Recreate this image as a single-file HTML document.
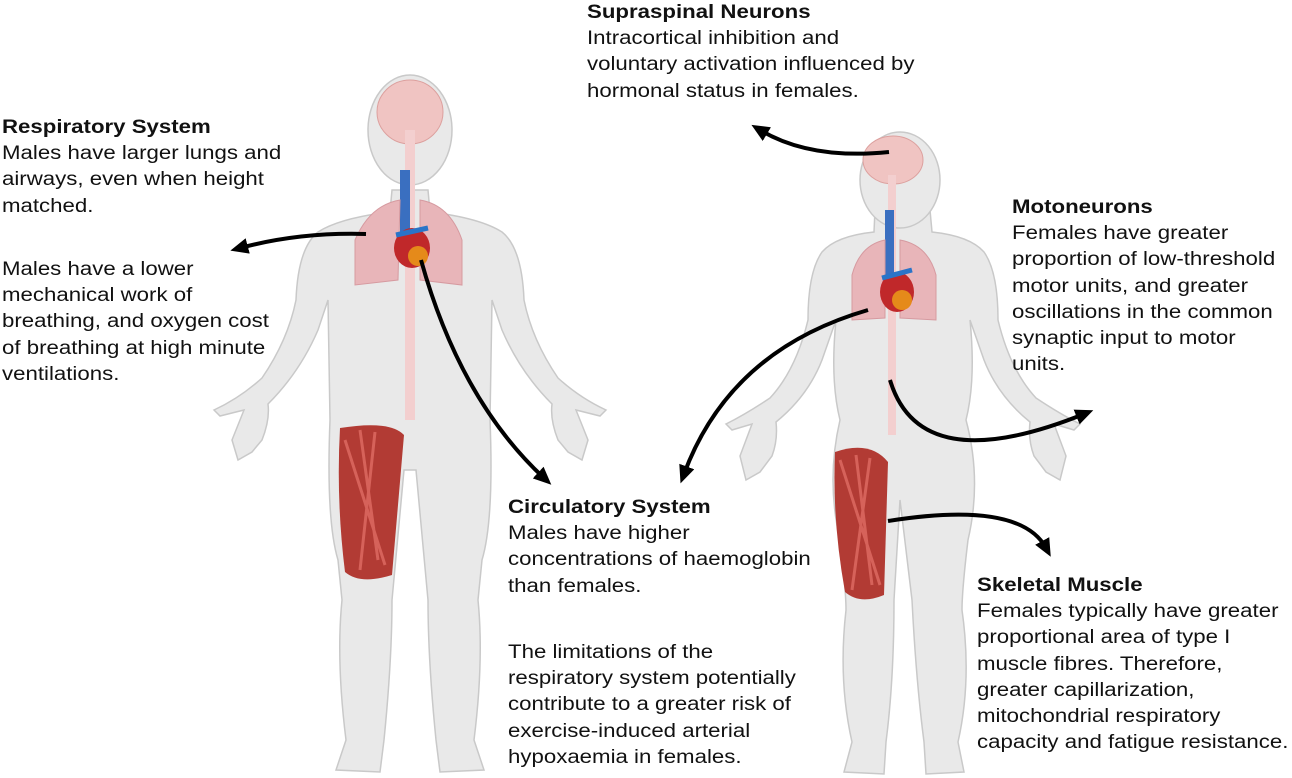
<!DOCTYPE html>
<html><head><meta charset="utf-8"><style>
html,body{margin:0;padding:0;background:#fff;}
#w{position:relative;width:1292px;height:778px;overflow:hidden;font-family:"Liberation Sans",Arial,sans-serif;color:#111;}
.t{position:absolute;font-size:19px;line-height:26.2px;white-space:nowrap;transform:scaleX(1.17);transform-origin:0 0;}
.t b{font-weight:bold;}
svg{position:absolute;left:0;top:0;}
</style></head><body><div id="w">
<svg width="1292" height="778" viewBox="0 0 1292 778">
<defs>
<marker id="ah" markerWidth="18" markerHeight="18" refX="8" refY="9" orient="auto" markerUnits="userSpaceOnUse" viewBox="0 0 18 18">
<path d="M0,1 L18,9 L0,17 z" fill="#000"/></marker>
</defs>
<g fill="#e9e9e9" stroke="#c9c9c9" stroke-width="1.5">
<path d="M392,190 L390,212 Q340,218 318,232 Q298,248 296,300 Q288,340 262,378 Q240,398 214,410 L220,416 Q236,412 244,410 L232,440 L238,460 L252,452 L262,440 Q270,420 268,404 Q300,372 318,330 L328,300 L330,420 Q326,520 338,560 L342,600 Q336,660 346,740 L336,770 L380,772 L384,740 Q392,660 392,600 L404,470 L416,470 L428,600 Q428,660 436,740 L440,772 L484,770 L474,740 Q484,660 478,600 L482,560 Q494,520 490,420 L492,300 L502,330 Q520,372 552,404 Q550,420 558,440 L568,452 L582,460 L588,440 L576,410 Q584,412 600,416 L606,410 Q580,398 558,378 Q532,340 524,300 Q522,248 502,232 Q480,218 430,212 L428,190 Z"/>
<ellipse cx="410" cy="130" rx="42" ry="55"/>
<path d="M875,210 L874,232 Q836,236 822,252 Q808,272 808,320 Q796,370 770,398 Q746,414 726,424 L732,430 L752,424 L740,456 L746,480 L760,472 L772,456 Q778,440 776,422 Q808,396 822,360 L836,320 Q830,380 840,420 Q826,480 840,540 Q846,590 846,610 Q838,680 852,742 L844,772 L884,774 L886,742 Q894,680 894,600 L900,500 L912,600 Q916,680 924,742 L926,774 L964,772 L958,742 Q972,680 962,610 Q962,590 968,540 Q982,480 966,420 Q976,380 970,320 L984,360 Q998,396 1030,422 Q1028,440 1034,456 L1046,472 L1060,480 L1066,456 L1054,424 L1074,430 L1080,424 Q1060,414 1036,398 Q1010,370 998,320 Q998,272 984,252 Q970,236 932,232 L930,210 Z"/>
<ellipse cx="900" cy="180" rx="40" ry="48"/>
</g>
<ellipse cx="410" cy="112" rx="33" ry="32" fill="#f0c4c2" stroke="#dca09e"/>
<rect x="405" y="130" width="10" height="290" fill="#f3cfcf"/>
<rect x="400" y="170" width="10" height="90" fill="#3a6fc0"/>
<path d="M400,200 Q370,205 355,240 L355,285 L398,280 Z" fill="#e8b5b9" stroke="#d69aa0"/>
<path d="M420,200 Q450,205 462,240 L462,285 L420,280 Z" fill="#e8b5b9" stroke="#d69aa0"/>
<ellipse cx="412" cy="248" rx="18" ry="20" fill="#c0282a"/>
<ellipse cx="418" cy="256" rx="10" ry="10" fill="#e58a1a"/>
<path d="M396,235 L428,228" stroke="#2a74c8" stroke-width="5"/>
<path d="M340,428 Q390,420 404,435 L392,575 Q360,585 345,572 Q336,500 340,428 Z" fill="#b23b34"/>
<path d="M345,440 L385,565 M360,430 L378,560 M375,432 L360,570" stroke="#d6625a" stroke-width="3" fill="none"/>
<ellipse cx="893" cy="160" rx="30" ry="24" fill="#f0c4c2" stroke="#dca09e"/>
<rect x="888" y="175" width="8" height="260" fill="#f3cfcf"/>
<rect x="885" y="210" width="9" height="80" fill="#3a6fc0"/>
<path d="M885,240 Q860,245 852,275 L852,320 L885,318 Z" fill="#e8b5b9" stroke="#d69aa0"/>
<path d="M900,240 Q928,245 936,275 L936,320 L900,318 Z" fill="#e8b5b9" stroke="#d69aa0"/>
<ellipse cx="897" cy="292" rx="17" ry="20" fill="#c0282a"/>
<ellipse cx="902" cy="300" rx="10" ry="10" fill="#e58a1a"/>
<path d="M882,278 L912,270" stroke="#2a74c8" stroke-width="5"/>
<path d="M835,452 Q870,440 888,462 L884,595 Q860,605 845,592 Q832,520 835,452 Z" fill="#b23b34"/>
<path d="M840,460 L880,585 M856,455 L872,585 M870,458 L852,590" stroke="#d6625a" stroke-width="3" fill="none"/>
<g fill="none" stroke="#000" stroke-width="4" marker-end="url(#ah)">
<path d="M366,234 Q300,232 240,248"/>
<path d="M421,260 Q460,400 544,478"/>
<path d="M889,152 Q810,160 760,130"/>
<path d="M868,310 Q730,350 684,474"/>
<path d="M890,380 Q920,480 1084,414"/>
<path d="M888,521 Q1020,500 1046,548"/>
</g>
</svg>
<div class="t" style="left:2px;top:115px"><b>Respiratory System</b><br>Males have larger lungs and<br>airways, even when height<br>matched.</div>
<div class="t" style="left:2px;top:257px">Males have a lower<br>mechanical work of<br>breathing, and oxygen cost<br>of breathing at high minute<br>ventilations.</div>
<div class="t" style="left:587px;top:0px"><b>Supraspinal Neurons</b><br>Intracortical inhibition and<br>voluntary activation influenced by<br>hormonal status in females.</div>
<div class="t" style="left:1012px;top:195px"><b>Motoneurons</b><br>Females have greater<br>proportion of low-threshold<br>motor units, and greater<br>oscillations in the common<br>synaptic input to motor<br>units.</div>
<div class="t" style="left:508px;top:495px"><b>Circulatory System</b><br>Males have higher<br>concentrations of haemoglobin<br>than females.</div>
<div class="t" style="left:508px;top:640px">The limitations of the<br>respiratory system potentially<br>contribute to a greater risk of<br>exercise-induced arterial<br>hypoxaemia in females.</div>
<div class="t" style="left:977px;top:573px"><b>Skeletal Muscle</b><br>Females typically have greater<br>proportional area of type I<br>muscle fibres. Therefore,<br>greater capillarization,<br>mitochondrial respiratory<br>capacity and fatigue resistance.</div>
</div></body></html>
